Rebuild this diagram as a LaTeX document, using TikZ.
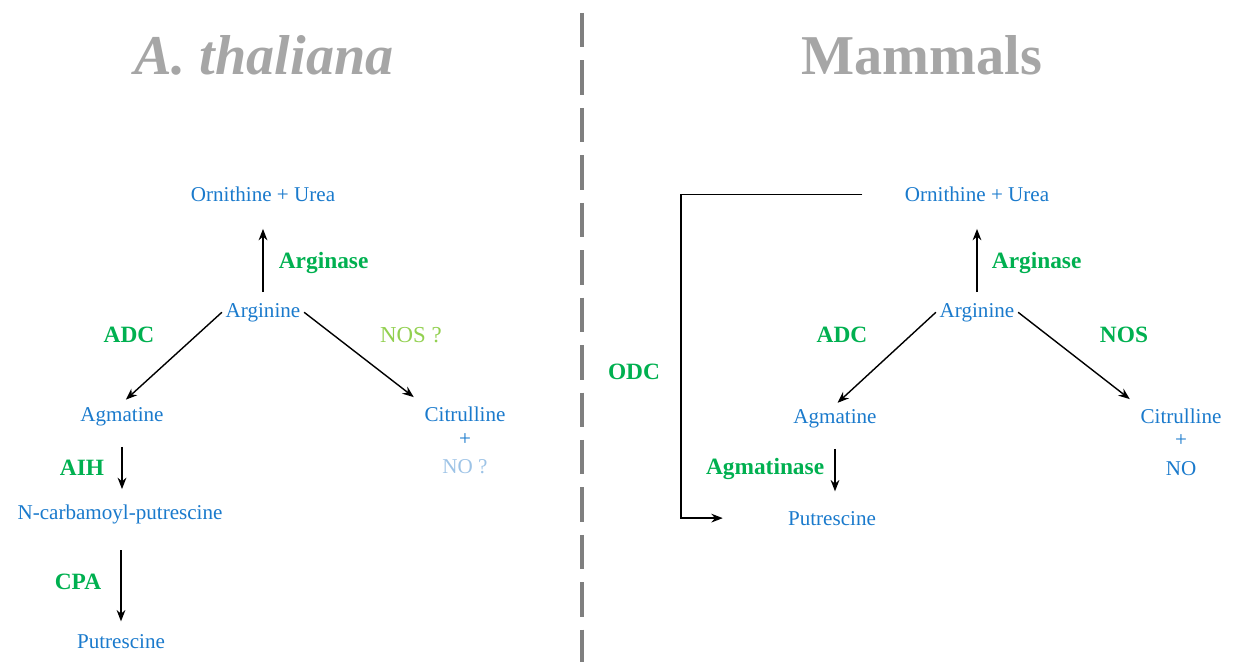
\documentclass[tikz,border=0pt]{standalone}
\usepackage{fontspec}
\setmainfont{Liberation Serif}
\usetikzlibrary{arrows.meta}
\definecolor{molblue}{HTML}{1A7ACC}
\definecolor{enzgreen}{HTML}{00B050}
\definecolor{palegreen}{HTML}{92D050}
\definecolor{paleblue}{HTML}{9DC3E6}
\definecolor{titlegray}{HTML}{A6A6A6}
\definecolor{splitgray}{HTML}{7F7F7F}
\begin{document}
\begin{tikzpicture}[x=0.02cm,y=-0.02cm,
		mol/.style={anchor=base,text=molblue,inner sep=2pt,font=\fontsize{12}{14}\selectfont},
		enz/.style={anchor=base,text=enzgreen,inner sep=2pt,font=\fontsize{13.3}{16}\selectfont\bfseries},
		ttl/.style={anchor=base,text=titlegray,font=\fontsize{32}{38}\selectfont\bfseries},
		react/.style={-{Stealth[length=6.5pt,width=5pt]},line width=0.8pt}]
		\useasboundingbox (0,0) rectangle (1233,662);
		\draw[splitgray,line width=2.3pt,dash pattern=on 19.6pt off 7.4pt] (582,13) -- (582,662);
		\node[ttl] (ttlplant) at (264,75) {\itshape A. thaliana};
		\node[ttl] (ttlmam) at (922,75) {Mammals};
		% A. thaliana
		\node[mol] (orn1) at (263,202) {Ornithine + Urea};
		\node[mol] (arg1) at (263,317) {Arginine};
		\node[mol] (agm1) at (122,421) {Agmatine};
		\node[mol] (cit1) at (465,421) {Citrulline};
		\node[mol] (plus1) at (465,445) {+};
		\node[mol,text=paleblue] (no1) at (465,473) {NO ?};
		\node[mol] (ncp1) at (120,519) {N-carbamoyl-putrescine};
		\node[mol] (put1) at (121,648) {Putrescine};
		\node[enz,anchor=base west] (argase1) at (275,268) {Arginase};
		\node[enz] (adc1) at (129,342) {ADC};
		\node[enz,text=palegreen,font=\fontsize{13}{16}\selectfont] (nos1) at (411,342) {NOS ?};
		\node[enz] (aih1) at (82,475) {AIH};
		\node[enz] (cpa1) at (78,589) {CPA};
		\draw[react,shorten <=4pt,shorten >=13pt] (arg1.north) -- (orn1.south);
		\draw[react,shorten >=3pt] (arg1.west) -- (agm1.north);
		\draw[react,shorten >=5pt] (arg1.east) -- (cit1.north west);
		\draw[react,shorten <=10pt,shorten >=6.5pt] (agm1.south) -- (agm1.south |- ncp1.north);
		\draw[react,shorten <=13pt,shorten >=5pt] (ncp1.south -| put1.north) -- (put1.north);
		% Mammals
		\node[mol] (orn2) at (977,202) {Ornithine + Urea};
		\node[mol] (arg2) at (977,317) {Arginine};
		\node[mol] (agm2) at (835,423) {Agmatine};
		\node[mol] (cit2) at (1181,423) {Citrulline};
		\node[mol] (plus2) at (1181,446) {+};
		\node[mol] (no2) at (1181,475) {NO};
		\node[mol] (put2) at (832,525) {Putrescine};
		\node[enz,anchor=base west] (argase2) at (988,268) {Arginase};
		\node[enz] (adc2) at (842,342) {ADC};
		\node[enz] (nos2) at (1124,342) {NOS};
		\node[enz,anchor=base east] (agmase2) at (828,474) {Agmatinase};
		\node[enz] (odc2) at (634,379) {ODC};
		\coordinate (odcturn) at (681,0);
		\draw[react,shorten <=4pt,shorten >=13pt] (arg2.north) -- (arg2.north |- orn2.south);
		\draw[react,shorten >=2pt] (arg2.west) -- (agm2.north);
		\draw[react,shorten >=5pt] (arg2.east) -- (cit2.north west);
		\draw[react,shorten <=10pt,shorten >=9pt] (agm2.south) -- (agm2.south |- put2.north);
		\draw[react] ([xshift=-22pt]orn2.west) -- (odcturn |- orn2.west) |- ([xshift=-35pt]put2.west);
	\end{tikzpicture}
\end{document}
